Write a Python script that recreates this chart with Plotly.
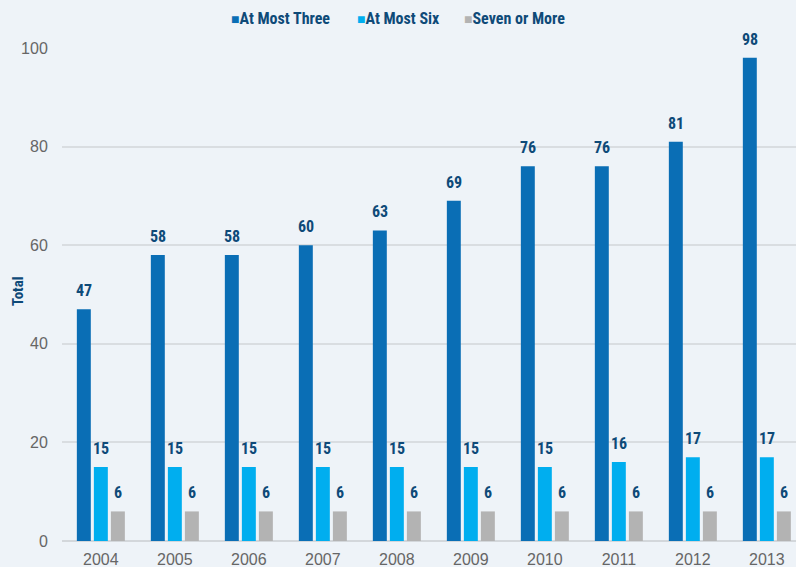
import plotly.graph_objects as go

years = ["2004", "2005", "2006", "2007", "2008", "2009", "2010", "2011", "2012", "2013"]
at_most_three = [47, 58, 58, 60, 63, 69, 76, 76, 81, 98]
at_most_six = [15, 15, 15, 15, 15, 15, 15, 16, 17, 17]
seven_or_more = [6, 6, 6, 6, 6, 6, 6, 6, 6, 6]

series = [
    ("At Most Three", at_most_three, "#0A6EB5"),
    ("At Most Six", at_most_six, "#00AEEF"),
    ("Seven or More", seven_or_more, "#B3B3B3"),
]

NARROW = "Liberation Sans Narrow, Roboto Condensed, Arial Narrow, sans-serif"
NAVY = "#0E4A78"

W, H = 796, 567
ML, MR, MT, MB = 62, 0, 48, 26
x_lo, x_hi = -0.525, 9.394
bargap, bargroupgap = 0.31, 0.18
px_per_cat = (W - ML - MR) / (x_hi - x_lo)
slot_px = px_per_cat * (1 - bargap) / len(series)

fig = go.Figure()
annotations = []
for i, (name, vals, col) in enumerate(series):
    fig.add_trace(go.Bar(
        x=years, y=vals, name=name, marker=dict(color=col, line=dict(width=0)),
        showlegend=False,
    ))
    shift = (i - (len(series) - 1) / 2) * slot_px
    for j, v in enumerate(vals):
        annotations.append(dict(
            x=j, y=v, xref="x", yref="y", text=f"<b>{v}</b>", showarrow=False,
            xanchor="center", yanchor="bottom", xshift=shift, yshift=7,
            font=dict(family=NARROW, size=16, color=NAVY),
        ))

# legend drawn as text with coloured squares
legend_px = [229, 355, 462]
legend_y = (H - MB - 19) / (H - MT - MB)
for (name, vals, col), lx in zip(series, legend_px):
    annotations.append(dict(
        x=(lx - ML) / (W - ML - MR), y=legend_y, xref="paper", yref="paper",
        xanchor="left", yanchor="middle",
        text=f"<span style='color:{col};font-size:14px'>■</span><b>{name}</b>",
        showarrow=False, font=dict(family=NARROW, size=16, color=NAVY),
    ))

# y-axis title
annotations.append(dict(
    x=(18 - ML) / (W - ML - MR), y=(541 - 291) / (H - MT - MB), xref="paper", yref="paper",
    xanchor="center", yanchor="middle", textangle=-90, showarrow=False,
    text="<b>Total</b>", font=dict(family=NARROW, size=15, color=NAVY),
))

fig.update_layout(
    width=W, height=H,
    paper_bgcolor="#EEF3F8", plot_bgcolor="#EEF3F8",
    margin=dict(l=ML, r=MR, t=MT, b=MB),
    barmode="group", bargap=bargap, bargroupgap=bargroupgap,
    showlegend=False,
    annotations=annotations,
    xaxis=dict(type="category", showgrid=False, showline=False, range=[x_lo, x_hi],
               ticks="outside", ticklen=4, tickcolor="rgba(0,0,0,0)",
               automargin=False,
               tickfont=dict(family="Liberation Sans, Arial, sans-serif", size=16, color="#666666")),
    yaxis=dict(range=[0, 100], dtick=20, showgrid=True, gridcolor="#D9DDE1", gridwidth=1.5,
               zeroline=True, zerolinecolor="#D3D7DB", zerolinewidth=2,
               ticks="outside", ticklen=10, tickcolor="rgba(0,0,0,0)",
               automargin=False,
               tickfont=dict(family="Liberation Sans, Arial, sans-serif", size=16, color="#666666")),
)

fig.write_html("out.html", config={"displayModeBar": False},
               post_script="document.body.style.margin='0';document.body.style.overflow='hidden';")
